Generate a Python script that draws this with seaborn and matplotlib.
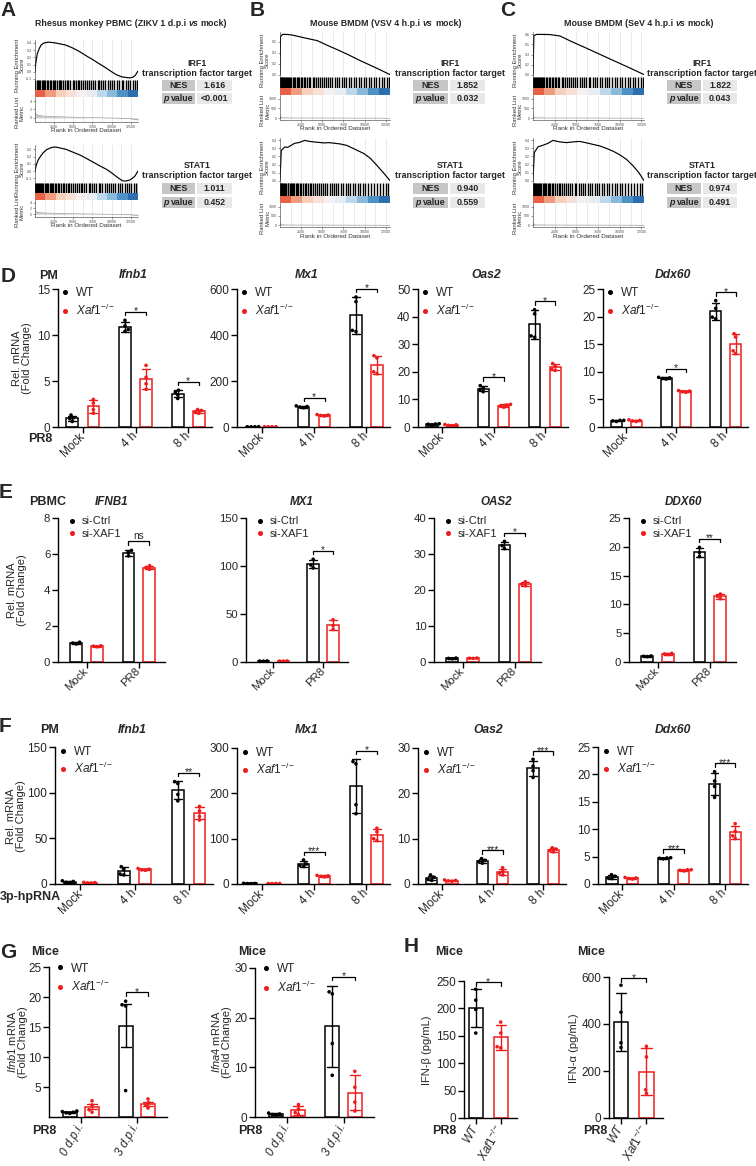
import warnings
import numpy as np
import pandas as pd
import matplotlib
matplotlib.use('Agg')
import matplotlib.pyplot as plt
from matplotlib.lines import Line2D
from matplotlib.patches import Rectangle
from matplotlib.colors import LinearSegmentedColormap
from matplotlib.ticker import MaxNLocator, FormatStrFormatter
import seaborn as sns

warnings.filterwarnings('ignore')

# ---------------- A-C: GSEA ----------------
gsea_titles = ['Rhesus monkey PBMC (ZIKV 1 d.p.i', 'Mouse BMDM (VSV 4 h.p.i', 'Mouse BMDM (SeV 4 h.p.i']
gsea_sets = ['IRF1', 'STAT1']
gsea_nes = [['1.616', '1.011'], ['1.852', '0.940'], ['1.822', '0.974']]
gsea_p = [['<0.001', '0.452'], ['0.032', '0.559'], ['0.043', '0.491']]

# running enrichment score (rank, score)
a_irf1_rank = [0, 100, 300, 550, 800, 1200, 1800, 2600, 3300, 4000, 4900, 5800, 6700, 7500, 8400,
               9300, 10000, 10600, 11300, 11900, 12400, 12800, 13100, 13450]
a_irf1_es = [0.0, 0.12, 0.25, 0.32, 0.37, 0.40, 0.41, 0.40, 0.385, 0.37, 0.33, 0.28, 0.22, 0.17, 0.11,
             0.05, 0.0, -0.04, -0.07, -0.08, -0.085, -0.075, -0.05, 0.01]
a_stat1_rank = [0, 150, 400, 700, 1050, 1500, 2140, 2600, 3000, 3500, 4040, 4900, 5790, 6700, 7540,
                8400, 9300, 10000, 10600, 11100, 11490, 11900, 12370, 12700, 13020, 13450]
a_stat1_es = [0.0, 0.06, 0.12, 0.16, 0.20, 0.235, 0.26, 0.265, 0.26, 0.25, 0.24, 0.21, 0.18, 0.14, 0.10,
              0.06, 0.02, -0.02, -0.06, -0.09, -0.11, -0.11, -0.10, -0.08, -0.06, 0.0]
b_irf1_rank = [0, 60, 300, 800, 1500, 3000, 4400, 5600, 6800, 8100, 9500, 11200, 13000]
b_irf1_es = [0.0, 0.52, 0.55, 0.55, 0.54, 0.50, 0.465, 0.40, 0.34, 0.27, 0.19, 0.10, 0.0]
b_stat1_rank = [0, 150, 560, 900, 1300, 1700, 2300, 2900, 3500, 4000, 4600, 5200, 5800, 6400, 7100,
                7900, 8900, 9900, 10700, 11400, 12200, 13000]
b_stat1_es = [0.0, 0.30, 0.335, 0.33, 0.35, 0.37, 0.38, 0.40, 0.39, 0.385, 0.38, 0.375, 0.378, 0.372,
              0.365, 0.35, 0.31, 0.27, 0.22, 0.156, 0.08, 0.0]
c_irf1_rank = [0, 100, 400, 1000, 1900, 3100, 4500, 6000, 7500, 9000, 10900, 12800]
c_irf1_es = [0.0, 0.58, 0.60, 0.60, 0.598, 0.577, 0.49, 0.404, 0.315, 0.226, 0.115, 0.0]
c_stat1_rank = [0, 150, 580, 1160, 1700, 2310, 3100, 3855, 4600, 5400, 6200, 6940, 7700, 8480, 9300,
                10020, 10800, 11570, 12200, 12800]
c_stat1_es = [0.0, 0.28, 0.336, 0.352, 0.37, 0.40, 0.385, 0.378, 0.385, 0.39, 0.375, 0.36, 0.345, 0.32,
              0.29, 0.256, 0.21, 0.144, 0.08, 0.0]

# hit positions (thousands of ranks)
a_irf1_hits = [0.05, 0.2, 0.35, 0.5, 0.7, 0.85, 1.0, 1.2, 1.35, 1.55, 1.7, 1.9, 2.05, 2.3, 2.5, 2.65,
               2.85, 3.1, 3.3, 3.45, 3.7, 3.9, 4.2, 4.35, 4.6, 4.9, 5.05, 5.3, 5.55, 5.75, 6.0, 6.3,
               6.5, 6.8, 7.1, 7.3, 7.6, 7.85, 8.2, 8.4, 8.6, 8.9, 9.2, 9.55, 9.8, 10.1, 10.35, 10.7,
               11.0, 11.3, 11.55, 11.9, 12.2, 12.45, 12.75, 13.0, 13.3]
a_stat1_hits = [0.05, 0.15, 0.3, 0.4, 0.55, 0.7, 0.8, 0.95, 1.1, 1.25, 1.4, 1.6, 1.75, 1.9, 2.1, 2.25,
                2.4, 2.6, 2.8, 3.0, 3.15, 3.4, 3.6, 3.85, 4.0, 4.3, 4.5, 4.75, 5.0, 5.2, 5.5, 5.7,
                6.0, 6.2, 6.45, 6.7, 7.0, 7.2, 7.5, 7.7, 8.0, 8.3, 8.55, 8.8, 9.1, 9.35, 9.6, 9.9,
                10.2, 10.5, 10.8, 11.1, 11.4, 11.7, 12.0, 12.3, 12.6, 12.9, 13.2, 13.4]
b_irf1_hits = [0.02, 0.1, 0.18, 0.27, 0.35, 0.45, 0.55, 0.68, 0.8, 0.95, 1.05, 1.2, 1.35, 1.5, 1.6,
               1.8, 1.95, 2.1, 2.3, 2.45, 2.6, 2.85, 3.0, 3.2, 3.4, 3.6, 3.85, 4.0, 4.25, 4.5, 4.7,
               4.95, 5.2, 5.45, 5.7, 5.9, 6.2, 6.45, 6.7, 7.0, 7.3, 7.55, 7.8, 8.1, 8.4, 8.7, 8.95,
               9.3, 9.6, 9.9, 10.2, 10.5, 10.8, 11.1, 11.4, 11.7, 12.0, 12.3, 12.6, 12.9]
b_stat1_hits = [0.02, 0.08, 0.15, 0.25, 0.4, 0.5, 0.62, 0.75, 0.9, 1.0, 1.15, 1.3, 1.45, 1.55, 1.7,
                1.85, 2.0, 2.15, 2.35, 2.5, 2.7, 2.9, 3.05, 3.25, 3.5, 3.7, 3.9, 4.15, 4.4, 4.6,
                4.85, 5.1, 5.35, 5.6, 5.85, 6.1, 6.35, 6.6, 6.9, 7.2, 7.5, 7.75, 8.0, 8.3, 8.6,
                8.9, 9.2, 9.5, 9.8, 10.1, 10.45, 10.8, 11.15, 11.5, 11.85, 12.2, 12.5, 12.8]
c_irf1_hits = [0.03, 0.12, 0.2, 0.3, 0.42, 0.55, 0.65, 0.8, 0.9, 1.05, 1.2, 1.3, 1.45, 1.6, 1.8, 1.95,
               2.15, 2.3, 2.5, 2.7, 2.85, 3.05, 3.3, 3.5, 3.7, 3.95, 4.2, 4.4, 4.65, 4.9, 5.1, 5.4,
               5.6, 5.85, 6.1, 6.4, 6.6, 6.9, 7.15, 7.4, 7.7, 8.0, 8.25, 8.55, 8.8, 9.1, 9.4, 9.7,
               10.0, 10.3, 10.6, 10.9, 11.2, 11.5, 11.8, 12.1, 12.4, 12.7]
c_stat1_hits = [0.02, 0.1, 0.17, 0.26, 0.38, 0.48, 0.6, 0.72, 0.85, 0.98, 1.1, 1.25, 1.4, 1.52, 1.68,
                1.82, 2.0, 2.2, 2.35, 2.55, 2.75, 2.95, 3.15, 3.35, 3.6, 3.8, 4.05, 4.3, 4.5, 4.8,
                5.0, 5.25, 5.5, 5.8, 6.0, 6.3, 6.55, 6.8, 7.1, 7.35, 7.65, 7.9, 8.2, 8.5, 8.8, 9.1,
                9.4, 9.7, 10.0, 10.3, 10.65, 11.0, 11.3, 11.65, 12.0, 12.3, 12.6]

# ranked list metric
a_metric_rank = [0, 100, 400, 1000, 2500, 5000, 7500, 10000, 12500, 13450]
a_metric = [1.3, 0.9, 0.6, 0.45, 0.3, 0.15, 0.05, -0.05, -0.2, -0.5]
bc_metric_rank = [0, 40, 300, 1500, 12000, 13000]
bc_metric = [180, 60, 15, 5, -5, -15]

# colour strip of ranked genes (red = up, blue = down)
strip_vals = [0.9, 0.7, 0.45, 0.3, 0.1, -0.1, -0.3, -0.5, -0.7, -0.9]

# ---------------- D: PM, PR8 ----------------
d_groups = ['Mock', '4 h', '8 h']
d_genes = ['Ifnb1', 'Mx1', 'Oas2', 'Ddx60']
d_ifnb1_wt = [[0.6, 0.9, 1.0, 1.3], [10.4, 10.6, 11.0, 11.6], [3.1, 3.5, 3.8, 4.0]]
d_ifnb1_ko = [[1.5, 1.9, 2.6, 3.0], [4.1, 4.7, 5.4, 6.7], [1.5, 1.6, 1.8, 1.9]]
d_mx1_wt = [[0.8, 1.0, 1.1, 1.2], [84, 87, 89, 92], [415, 420, 545, 565]]
d_mx1_ko = [[0.8, 1.0, 1.0, 1.2], [48, 50, 52, 54], [232, 240, 300, 310]]
d_oas2_wt = [[0.7, 1.0, 1.1, 1.2], [12.8, 13.5, 14.2, 15.0], [32.5, 33.0, 41.0, 42.5]]
d_oas2_ko = [[0.5, 0.6, 0.8, 0.9], [7.2, 7.6, 8.0, 8.2], [20.5, 21.0, 22.0, 23.0]]
d_ddx60_wt = [[1.0, 1.1, 1.2, 1.2], [8.7, 8.8, 8.9, 9.0], [19.6, 19.9, 21.5, 22.9]]
d_ddx60_ko = [[1.0, 1.1, 1.2, 1.3], [6.3, 6.4, 6.5, 6.6], [13.3, 13.8, 16.3, 16.9]]
d_sig = [['', '*', '*'], ['', '*', '*'], ['', '*', '*'], ['', '*', '*']]

# ---------------- E: PBMC, PR8 ----------------
e_groups = ['Mock', 'PR8']
e_genes = ['IFNB1', 'MX1', 'OAS2', 'DDX60']
e_ifnb1_ctrl = [[1.0, 1.05, 1.1], [5.9, 6.1, 6.2]]
e_ifnb1_si = [[0.85, 0.88, 0.9], [5.15, 5.25, 5.35]]
e_mx1_ctrl = [[0.9, 1.0, 1.1], [98, 101, 107]]
e_mx1_si = [[0.9, 1.0, 1.1], [34, 38, 44]]
e_oas2_ctrl = [[0.9, 1.0, 1.1], [31.5, 32.3, 33.5]]
e_oas2_si = [[1.0, 1.05, 1.1], [21.2, 21.6, 22.3]]
e_ddx60_ctrl = [[0.95, 1.0, 1.05], [18.3, 19.0, 19.9]]
e_ddx60_si = [[1.3, 1.4, 1.5], [11.0, 11.4, 11.8]]
e_sig = [['', 'ns'], ['', '*'], ['', '*'], ['', '**']]

# ---------------- F: PM, 3p-hpRNA ----------------
f_ifnb1_wt = [[1.5, 2.0, 2.8, 3.5], [10, 11, 16, 19], [91, 98, 110, 112]]
f_ifnb1_ko = [[1.0, 1.2, 1.5, 1.8], [15.0, 15.5, 16.2, 17.0], [70, 74, 80, 85]]
f_mx1_wt = [[0.8, 1.0, 1.2, 1.5], [39, 41, 44, 53], [155, 175, 265, 270]]
f_mx1_ko = [[0.8, 1.0, 1.1, 1.2], [16, 17, 18, 19], [96, 100, 115, 123]]
f_oas2_wt = [[0.8, 1.0, 1.5, 2.0], [4.6, 4.9, 5.2, 5.6], [23.5, 25.0, 26.0, 27.5]]
f_oas2_ko = [[0.6, 0.7, 0.8, 0.9], [2.0, 2.4, 2.8, 3.6], [7.1, 7.4, 7.7, 8.0]]
f_ddx60_wt = [[1.0, 1.1, 1.4, 1.7], [4.6, 4.7, 4.75, 4.8], [15.8, 17.8, 18.8, 20.5]]
f_ddx60_ko = [[0.9, 1.0, 1.1, 1.2], [2.4, 2.5, 2.6, 2.6], [8.3, 8.8, 9.6, 11.0]]
f_sig = [['', '', '**'], ['', '***', '*'], ['', '***', '***'], ['', '***', '***']]

# ---------------- G / H: mice ----------------
g_groups = ['0 d.p.i.', '3 d.p.i.']
g_ifnb1_wt = [[0.6, 0.7, 0.8, 0.9, 1.0], [4.4, 18.5, 18.7, 19.3]]
g_ifnb1_ko = [[0.8, 1.2, 2.0, 2.7], [1.5, 2.0, 2.4, 3.0]]
g_ifna4_wt = [[0.4, 0.5, 0.6, 0.8], [8.4, 14.8, 24.8, 25.2]]
g_ifna4_ko = [[0.5, 0.9, 1.6, 2.5], [1.2, 3.0, 6.0, 9.2]]
h_ifnb = [[155, 198, 215, 235], [128, 130, 155, 175]]
h_ifna = [[300, 320, 450, 565], [105, 120, 260, 305]]

KO = r'$\mathit{Xaf1}^{-/-}$'
RED = '#ee1c1c'

sns.set_style('ticks')
plt.rcParams['font.family'] = ['Liberation Sans', 'DejaVu Sans']
plt.rcParams['mathtext.fontset'] = 'custom'
plt.rcParams['mathtext.rm'] = 'Liberation Sans'
plt.rcParams['mathtext.it'] = 'Liberation Sans:italic'
plt.rcParams['mathtext.bf'] = 'Liberation Sans:bold'

W, H = 756, 1166
fig = plt.figure(figsize=(W / 100, H / 100), dpi=100)
fig.patch.set_facecolor('white')
renderer = fig.canvas.get_renderer()


def px_axes(x0, y0, x1, y1):
    return fig.add_axes([x0 / W, 1 - y1 / H, (x1 - x0) / W, (y1 - y0) / H])


def px_text(x, y, s, **kw):
    kw.setdefault('ha', 'center')
    kw.setdefault('va', 'center')
    return fig.text(x / W, 1 - y / H, s, **kw)


def rich_text(x, y, parts, size):
    space = 0.278 * size * 100 / 72
    items = []
    for s, style in parts:
        t = fig.text(0, 1 - y / H, s, fontsize=size, fontweight='bold', fontstyle=style,
                     ha='left', va='center')
        items.append((t, t.get_window_extent(renderer).width))
    total = sum(w for _, w in items) + space * (len(items) - 1)
    cur = x - total / 2
    for t, w in items:
        t.set_x(cur / W)
        cur += w + space


def px_rect(x0, y0, x1, y1, color):
    fig.add_artist(Rectangle((x0 / W, 1 - y1 / H), (x1 - x0) / W, (y1 - y0) / H,
                             transform=fig.transFigure, fc=color, ec='none'))


strip_cmap = LinearSegmentedColormap.from_list(
    'strip', ['#1d5fa6', '#4a90c4', '#9cc8e2', '#e4ebf3', '#f7f0f0', '#f8d3c3', '#f09a7c', '#e4452c'])


def small_ticks(ax):
    ax.tick_params(length=1.5, width=0.4, labelsize=2.6, pad=0.6, colors='#4d4d4d')
    for s in ax.spines.values():
        s.set_linewidth(0.4)
        s.set_color('#333333')


def gsea_block(x0, x1, ys, rank, es, hits, m_rank, m_val, m_ticks, m_lim, xmax):
    ye0, ye1, yh1, yc1, ym1 = ys
    grid_major = np.arange(2500, xmax, 2500)
    grid_minor = np.arange(1250, xmax, 2500)

    ax = px_axes(x0, ye0, x1, ye1)
    sns.lineplot(x=rank, y=es, color='k', lw=0.85, ax=ax)
    lo, hi = min(es), max(es)
    pad = (hi - lo) * 0.06
    ax.set_ylim(lo - pad, hi + pad)
    ax.set_xlim(0, xmax)
    ax.set_xticks(grid_major)
    ax.set_xticks(grid_minor, minor=True)
    ax.grid(True, axis='x', which='both', color='#e6e6e6', lw=0.6)
    ax.yaxis.set_major_locator(MaxNLocator(6))
    ax.yaxis.set_major_formatter(FormatStrFormatter('%.1f'))
    small_ticks(ax)
    ax.tick_params(axis='x', which='both', length=0, labelbottom=False)
    for s in ['top', 'right', 'bottom']:
        ax.spines[s].set_visible(False)
    ax.set_xlabel('')
    ax.set_ylabel('')

    axh = px_axes(x0, ye1, x1, yh1)
    axh.vlines(np.array(hits) * 1000, 0, 1, color='k', lw=1.0)
    axh.set_xlim(0, xmax)
    axh.set_ylim(0, 1)
    axh.set_xticks([])
    axh.set_yticks([])
    for s in ['top', 'right', 'bottom']:
        axh.spines[s].set_visible(False)
    axh.spines['left'].set_linewidth(0.4)

    axc = px_axes(x0, yh1, x1, yc1)
    edges = np.linspace(0, xmax, len(strip_vals) + 1)
    axc.pcolormesh(edges, [0, 1], [strip_vals], cmap=strip_cmap, vmin=-1, vmax=1)
    axc.set_xlim(0, xmax)
    axc.set_xticks([])
    axc.set_yticks([])
    for s in axc.spines.values():
        s.set_visible(False)

    axm = px_axes(x0, yc1, x1, ym1)
    axm.fill_between(m_rank, m_val, 0, color='#c8c8c8', lw=0)
    axm.plot(m_rank, m_val, color='#a0a0a0', lw=0.5)
    axm.set_xlim(0, xmax)
    axm.set_ylim(*m_lim)
    axm.set_yticks(m_ticks)
    axm.set_xticks(grid_major)
    axm.set_xticks(grid_minor, minor=True)
    axm.set_xticklabels([str(int(v)) for v in grid_major])
    axm.grid(True, axis='x', which='both', color='#e6e6e6', lw=0.6)
    small_ticks(axm)
    axm.tick_params(axis='x', which='minor', length=0)
    for s in ['top', 'right']:
        axm.spines[s].set_visible(False)

    lab = dict(fontsize=4.2, color='#333333', rotation=90, linespacing=1.0)
    px_text(x0 - 15, (ye0 + yh1) / 2, 'Running Enrichment\nScore', **lab)
    px_text(x0 - 15, (yc1 + ym1) / 2 + 3, 'Ranked List\nMetric', **lab)
    px_text((x0 + x1) / 2, ym1 + 9, 'Rank in Ordered Dataset', fontsize=4.6, color='#333333')


def gsea_table(cx, dark, light, y_title, rows, name, nes, pval):
    px_text(cx, y_title, name, fontsize=6.4, fontweight='bold')
    px_text(cx, y_title + 10.5, 'transcription factor target', fontsize=6.4, fontweight='bold')
    (r1a, r1b), (r2a, r2b) = rows
    for ya, yb in rows:
        px_rect(dark[0], ya, dark[1], yb, '#c6c6c6')
        px_rect(light[0], ya, light[1], yb, '#e8e8e8')
    dc = (dark[0] + dark[1]) / 2
    lc = (light[0] + light[1]) / 2
    px_text(dc, (r1a + r1b) / 2, 'NES', fontsize=6.4, fontweight='bold')
    px_text(lc, (r1a + r1b) / 2, nes, fontsize=6.4, fontweight='bold')
    rich_text(dc, (r2a + r2b) / 2, [('p', 'italic'), ('value', 'normal')], 6.4)
    px_text(lc, (r2a + r2b) / 2, pval, fontsize=6.4, fontweight='bold')


gsea_cols = [(35, 138), (280, 390), (533, 644)]
gsea_xmax = [13450, 13000, 12800]
gsea_rows = [[(40, 80, 90, 97, 122), (145, 183, 193, 200, 217)],
             [(32, 77, 88, 95, 120), (138, 183, 196, 203, 227)],
             [(32, 77, 88, 95, 120), (138, 183, 196, 203, 227)]]
gsea_rank = [[a_irf1_rank, a_stat1_rank], [b_irf1_rank, b_stat1_rank], [c_irf1_rank, c_stat1_rank]]
gsea_es = [[a_irf1_es, a_stat1_es], [b_irf1_es, b_stat1_es], [c_irf1_es, c_stat1_es]]
gsea_hits = [[a_irf1_hits, a_stat1_hits], [b_irf1_hits, b_stat1_hits], [c_irf1_hits, c_stat1_hits]]
table_cx = [197, 450, 702]
table_dark = [(162, 195), (413, 448), (667, 701)]
table_light = [(197, 232), (450, 485), (703, 737)]
table_rows = [(63, [(80, 91), (93, 104)]), (165, [(183, 194), (197, 208)])]
title_cx = [131, 386, 639]

for c in range(3):
    x0, x1 = gsea_cols[c]
    for r in range(2):
        if c == 0:
            mr, mv, mt, ml = a_metric_rank, a_metric, [0, 2, 4], (-1, 5)
        else:
            mr, mv, mt, ml = bc_metric_rank, bc_metric, [0, 500, 1000], (-100, 1200)
        gsea_block(x0, x1, gsea_rows[c][r], gsea_rank[c][r], gsea_es[c][r], gsea_hits[c][r],
                   mr, mv, mt, ml, gsea_xmax[c])
        yt, rows = table_rows[r]
        gsea_table(table_cx[c], table_dark[c], table_light[c], yt, rows, gsea_sets[r],
                   gsea_nes[c][r], gsea_p[c][r])
    rich_text(title_cx[c], 24, [(gsea_titles[c], 'normal'), ('vs', 'italic'), ('mock)', 'normal')], 6.4)

# ---------------- bar charts ----------------


def spread(vals, err):
    v = np.asarray(vals, dtype=float)
    e = v.std(ddof=1)
    if err == 'se':
        e = e / np.sqrt(len(v))
    return max(v.max(), v.mean() + e)


def bracket(ax, x0, x1, y, text, ytop, fs):
    h = 0.025 * ytop
    ax.plot([x0, x0, x1, x1], [y - h, y, y, y - h], color='k', lw=0.9, clip_on=False)
    if text == 'ns':
        ax.annotate(text, ((x0 + x1) / 2, y), xytext=(0, 0.3), textcoords='offset points',
                    ha='center', va='bottom', fontsize=fs, annotation_clip=False)
    else:
        ax.annotate(text, ((x0 + x1) / 2, y), xytext=(0, -1.8), textcoords='offset points',
                    ha='center', va='baseline', fontsize=fs, annotation_clip=False)


def style_axes(ax, fs):
    sns.despine(ax=ax)
    for s in ['left', 'bottom']:
        ax.spines[s].set_linewidth(1.0)
        ax.spines[s].set_color('k')
    ax.tick_params(axis='both', length=4, width=1.0, labelsize=fs, pad=1.5, color='k')
    ax.set_xlabel('')
    ax.set_ylabel('')


def bar_panel(rect, groups, names, vals_a, vals_b, ytop, yticks, sig, err='sd', gap=0.45,
              capsize=0.3, xlim=(-0.47, 2.45), rot=45, xstyle='normal', fs=8.5,
              leg_labels=None, leg_fs=8.5, leg_off=(3.5, 2.0), leg_space=0.35):
    x0, y0, x1, y1 = rect
    ax = px_axes(*rect)
    rows = []
    for name, vals in zip(names, (vals_a, vals_b)):
        for g, reps in zip(groups, vals):
            rows += [(g, name, v) for v in reps]
    df = pd.DataFrame(rows, columns=['group', 'geno', 'value'])
    pal = dict(zip(names, ['black', RED]))
    sns.barplot(data=df, x='group', y='value', hue='geno', order=groups, hue_order=names,
                palette=pal, fill=False, errorbar=err, capsize=capsize, width=0.8, gap=gap,
                linewidth=1.1, err_kws={'linewidth': 1.0}, legend=False, ax=ax)
    sns.swarmplot(data=df, x='group', y='value', hue='geno', order=groups, hue_order=names,
                  palette=pal, dodge=True, size=2.6, legend=False, ax=ax)
    ax.set_xlim(*xlim)
    ax.set_ylim(0, ytop)
    ax.set_yticks(yticks)
    ax.set_xticks(range(len(groups)))
    ax.set_xticklabels(groups, rotation=rot, ha='right', va='center', rotation_mode='anchor',
                       fontstyle=xstyle)
    style_axes(ax, fs)
    for i, s in enumerate(sig):
        if s:
            top = max(spread(vals_a[i], err), spread(vals_b[i], err))
            bracket(ax, i - 0.2, i + 0.2, top + 0.06 * ytop, s, ytop, fs - 1)
    labels = leg_labels if leg_labels else names
    handles = [Line2D([], [], ls='', marker='o', ms=2.6, color=col, label=lab)
               for col, lab in zip(['black', RED], labels)]
    wpx, hpx = x1 - x0, y1 - y0
    ax.legend(handles=handles, loc='upper left', frameon=False, fontsize=leg_fs,
              bbox_to_anchor=(leg_off[0] / wpx, 1 + leg_off[1] / hpx), borderaxespad=0,
              borderpad=0, handlelength=0.6, handletextpad=0.6, labelspacing=leg_space)
    return ax


# D
d_rects = [(58, 289, 212, 427), (237, 289, 390, 427), (418, 289, 568, 427), (603, 289, 748, 427)]
d_data = [(d_ifnb1_wt, d_ifnb1_ko), (d_mx1_wt, d_mx1_ko), (d_oas2_wt, d_oas2_ko), (d_ddx60_wt, d_ddx60_ko)]
d_ticks = [[0, 5, 10, 15], [0, 200, 400, 600], [0, 10, 20, 30, 40, 50], [0, 5, 10, 15, 20, 25]]
d_title_x = [133, 307, 486, 673]
for k in range(4):
    bar_panel(d_rects[k], d_groups, ['WT', 'Xaf1'], d_data[k][0], d_data[k][1], d_ticks[k][-1],
              d_ticks[k], d_sig[k], leg_labels=['WT', KO])
    px_text(d_title_x[k], 275, d_genes[k], fontsize=8.7, fontweight='bold', fontstyle='italic')

# E
e_rects = [(58, 518, 165, 662), (246, 518, 348, 662), (434, 518, 541, 662), (629, 518, 736, 662)]
e_data = [(e_ifnb1_ctrl, e_ifnb1_si), (e_mx1_ctrl, e_mx1_si), (e_oas2_ctrl, e_oas2_si), (e_ddx60_ctrl, e_ddx60_si)]
e_ticks = [[0, 2, 4, 6, 8], [0, 50, 100, 150], [0, 10, 20, 30, 40], [0, 5, 10, 15, 20, 25]]
e_title_x = [112, 302, 496, 684]
for k in range(4):
    bar_panel(e_rects[k], e_groups, ['si-Ctrl', 'si-XAF1'], e_data[k][0], e_data[k][1],
              e_ticks[k][-1], e_ticks[k], e_sig[k], gap=0.43, xlim=(-0.55, 1.5), fs=8.2,
              leg_fs=8, leg_off=(10.5, 1.5), leg_space=0.2)
    px_text(e_title_x[k], 502, e_genes[k], fontsize=8.4, fontweight='bold', fontstyle='italic')

# F
f_rects = [(55, 747, 213, 884), (237, 748, 390, 884), (418, 748, 566, 884), (598, 747, 748, 884)]
f_data = [(f_ifnb1_wt, f_ifnb1_ko), (f_mx1_wt, f_mx1_ko), (f_oas2_wt, f_oas2_ko), (f_ddx60_wt, f_ddx60_ko)]
f_ticks = [[0, 50, 100, 150], [0, 100, 200, 300], [0, 10, 20, 30], [0, 5, 10, 15, 20, 25]]
f_title_x = [132, 307, 488, 673]
for k in range(4):
    bar_panel(f_rects[k], d_groups, ['WT', 'Xaf1'], f_data[k][0], f_data[k][1], f_ticks[k][-1],
              f_ticks[k], f_sig[k], leg_labels=['WT', KO], leg_off=(4.5, 1.0), leg_space=0.25)
    px_text(f_title_x[k], 730, d_genes[k], fontsize=8.7, fontweight='bold', fontstyle='italic')

# G
g_rects = [(49, 967, 167, 1117), (255, 968, 374, 1117)]
g_data = [(g_ifnb1_wt, g_ifnb1_ko), (g_ifna4_wt, g_ifna4_ko)]
g_ticks = [[5, 10, 15, 20, 25], [0, 10, 20, 30]]
g_err = ['se', 'sd']
g_tops = [25, 30]
for k in range(2):
    bar_panel(g_rects[k], g_groups, ['WT', 'Xaf1'], g_data[k][0], g_data[k][1], g_tops[k],
              g_ticks[k], ['', '*'], err=g_err[k], gap=0.375, capsize=0.35, xlim=(-0.57, 1.54),
              rot=60, xstyle='italic', leg_labels=['WT', KO], leg_off=(7.5, 4.5), leg_space=0.35)

# H
h_rects = [(464, 981, 517, 1118), (609, 977, 663, 1118)]
h_sets = [h_ifnb, h_ifna]
h_ticks = [[0, 50, 100, 150, 200, 250], [0, 200, 400, 600]]
for k in range(2):
    ax = px_axes(*h_rects[k])
    rows = []
    for name, reps in zip(['WT', 'Xaf1'], h_sets[k]):
        rows += [(name, v) for v in reps]
    df = pd.DataFrame(rows, columns=['geno', 'value'])
    pal = {'WT': 'black', 'Xaf1': RED}
    sns.barplot(data=df, x='geno', y='value', hue='geno', order=['WT', 'Xaf1'], palette=pal,
                fill=False, errorbar='sd', capsize=0.4, width=0.56, linewidth=1.1,
                err_kws={'linewidth': 1.0}, legend=False, ax=ax)
    sns.swarmplot(data=df, x='geno', y='value', hue='geno', order=['WT', 'Xaf1'], palette=pal,
                  size=2.6, legend=False, ax=ax)
    ax.set_xlim(-0.47, 1.65)
    ax.set_ylim(0, h_ticks[k][-1])
    ax.set_yticks(h_ticks[k])
    ax.set_xticks([0, 1])
    ax.set_xticklabels(['WT', KO], rotation=60, ha='right', va='center', rotation_mode='anchor',
                       fontstyle='italic')
    style_axes(ax, 8.5)
    top = max(spread(h_sets[k][0], 'sd'), spread(h_sets[k][1], 'sd'))
    bracket(ax, 0, 1, top + 0.05 * h_ticks[k][-1], '*', h_ticks[k][-1], 7.5)

# ---------------- labels ----------------
for letter, x, y in [('A', 8, 11), ('B', 257, 11), ('C', 508, 11), ('D', 8, 277), ('E', 6, 492),
                     ('F', 5, 727), ('G', 8, 952), ('H', 411, 947)]:
    px_text(x, y, letter, fontsize=15, fontweight='bold')

bold9 = dict(fontsize=9, fontweight='bold')
px_text(49, 276, 'PM', **bold9)
px_text(48, 502, 'PBMC', **bold9)
px_text(50, 730, 'PM', **bold9)
for x in [45, 252, 449, 591]:
    px_text(x, 952, 'Mice', **bold9)
px_text(40, 439, 'PR8', **bold9)
px_text(30, 897, '3p-hpRNA', **bold9)
for x in [44, 250, 444, 595]:
    px_text(x, 1131, 'PR8', **bold9)

ylab = dict(fontsize=8, rotation=90, linespacing=0.95)
px_text(22, 358, 'Rel. mRNA\n(Fold Change)', **ylab)
px_text(17, 590, 'Rel. mRNA\n(Fold Change)', **ylab)
px_text(16, 816, 'Rel. mRNA\n(Fold Change)', **ylab)
px_text(17, 1042, r'$\mathit{Ifnb1}$ mRNA' + '\n(Fold Change)', **ylab)
px_text(221, 1042, r'$\mathit{Ifna4}$ mRNA' + '\n(Fold Change)', **ylab)
px_text(427, 1050, 'IFN-β (pg/mL)', **ylab)
px_text(574, 1048, 'IFN-α (pg/mL)', **ylab)

fig.savefig('out.png', dpi=100)
